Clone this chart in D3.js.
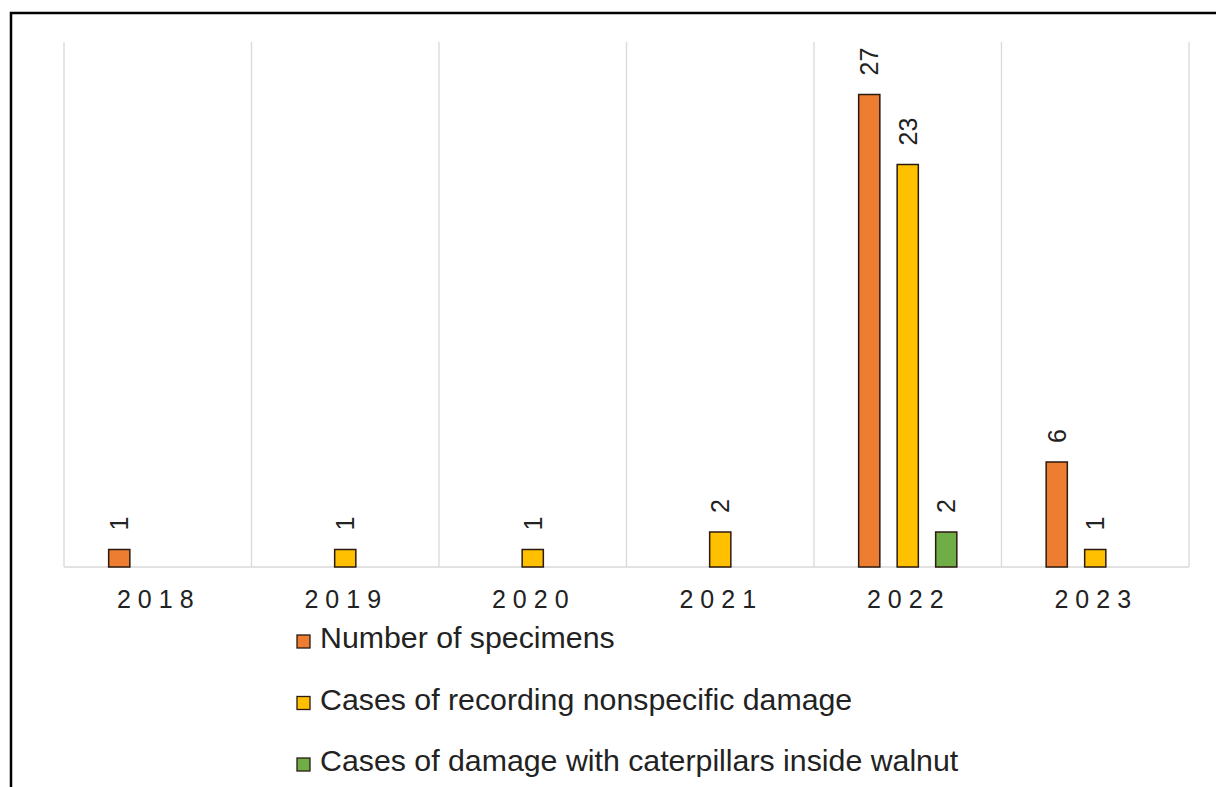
<!DOCTYPE html>
<html>
<head>
<meta charset="utf-8">
<script src="https://cdn.jsdelivr.net/npm/d3@7"></script>
<style>
  body { margin: 0; background: #fff; }
  svg { display: block; font-family: Arial, "Liberation Sans", sans-serif; }
</style>
</head>
<body>
<div id="chart"></div>
<script>
// data
var years = ["2018", "2019", "2020", "2021", "2022", "2023"];
var seriesNames = [
  "Number of specimens",
  "Cases of recording nonspecific damage",
  "Cases of damage with caterpillars inside walnut"
];
var specimens = [1, 0, 0, 0, 27, 6];
var nonspecific = [0, 1, 1, 2, 23, 1];
var caterpillars = [0, 0, 0, 0, 2, 0];
var colors = ["#ED7D31", "#FFC000", "#70AD47"];

var svgWidth = 1216, svgHeight = 787;
var margin = { top: 42, left: 64, right: 27, bottom: 220 };
var width = svgWidth - margin.left - margin.right;
var height = svgHeight - margin.top - margin.bottom;

var svg = d3.select("#chart").append("svg")
  .attr("width", svgWidth)
  .attr("height", svgHeight);

// outer frame
svg.append("rect")
  .attr("x", 11).attr("y", 13)
  .attr("width", 1216).attr("height", 800)
  .attr("fill", "none")
  .attr("stroke", "#000")
  .attr("stroke-width", 2.5);

var chartGroup = svg.append("g")
  .attr("transform", `translate(${margin.left}, ${margin.top})`);

var values = [specimens, nonspecific, caterpillars];
var rows = [];
years.forEach((y, i) => {
  values.forEach((arr, s) => {
    if (arr[i] > 0) rows.push({ year: y, s: s, v: arr[i] });
  });
});

var xScale = d3.scaleBand().domain(years).range([0, width]);
var xInner = d3.scaleBand().domain([0, 1, 2]).range([0, xScale.bandwidth()])
  .paddingInner(0.45).paddingOuter(1.16);
var yScale = d3.scaleLinear().domain([0, 30]).range([height, 0]);

// vertical separators
var edges = years.map(y => xScale(y)).concat([width]);
chartGroup.append("g").selectAll("line")
  .data(edges).enter().append("line")
  .attr("x1", d => d).attr("x2", d => d)
  .attr("y1", 0).attr("y2", height)
  .attr("stroke", "#d9d9d9").attr("stroke-width", 1.3);

// baseline
chartGroup.append("line")
  .attr("x1", 0).attr("x2", width)
  .attr("y1", height).attr("y2", height)
  .attr("stroke", "#d9d9d9").attr("stroke-width", 1.5);

// bars
chartGroup.append("g").selectAll("rect")
  .data(rows).enter().append("rect")
  .attr("x", d => xScale(d.year) + xInner(d.s))
  .attr("y", d => yScale(d.v))
  .attr("width", xInner.bandwidth())
  .attr("height", d => height - yScale(d.v))
  .attr("fill", d => colors[d.s])
  .attr("stroke", "#2b1a10")
  .attr("stroke-width", 1.5);

// value labels, rotated
chartGroup.append("g").selectAll("text")
  .data(rows).enter().append("text")
  .attr("transform", d => {
    var cx = xScale(d.year) + xInner(d.s) + xInner.bandwidth() / 2 + 9;
    var cy = yScale(d.v) - 19;
    return `translate(${cx}, ${cy}) rotate(-90)`;
  })
  .attr("text-anchor", "start")
  .attr("font-size", 25)
  .attr("fill", "#222")
  .text(d => d.v);

// x labels
chartGroup.append("g").selectAll("text")
  .data(years).enter().append("text")
  .attr("x", d => xScale(d) + xScale.bandwidth() / 2 + 1)
  .attr("y", height + 41)
  .attr("text-anchor", "middle")
  .attr("font-size", 25)
  .attr("letter-spacing", 7)
  .attr("fill", "#222")
  .text(d => d);

// legend
var legend = svg.append("g").selectAll("g")
  .data(seriesNames).enter().append("g")
  .attr("transform", (d, i) => `translate(297, ${635 + i * 61.5})`);

legend.append("rect")
  .attr("width", 13).attr("height", 13)
  .attr("fill", (d, i) => colors[i])
  .attr("stroke", "#2b1a10").attr("stroke-width", 1.3);

legend.append("text")
  .attr("x", 23).attr("y", 13)
  .attr("font-size", 30.3)
  .attr("fill", "#222")
  .text(d => d);
</script>
</body>
</html>
